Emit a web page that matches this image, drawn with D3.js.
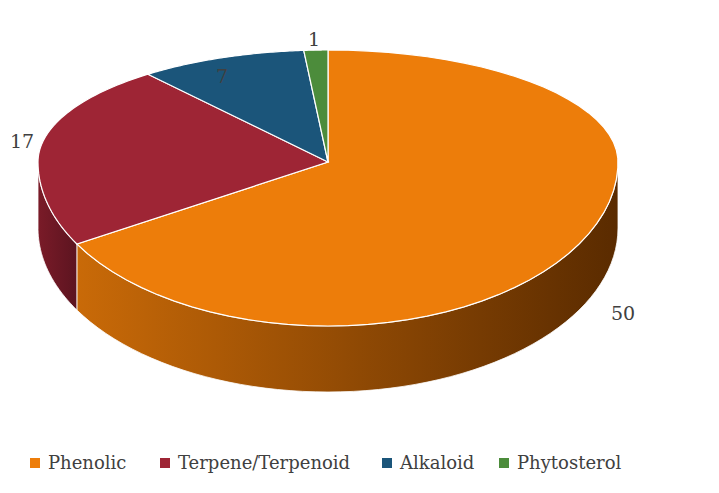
<!DOCTYPE html><html><head><script src="https://cdn.jsdelivr.net/npm/d3@7"></script>
<style>body{margin:0;background:#fff}</style></head><body><svg id="c" width="719" height="493"></svg>
<script>
const categories=["Phenolic","Terpene/Terpenoid","Alkaloid","Phytosterol"];
const values=[50,17,7,1];
const colors=["#ED7D0A","#9E2535","#1B557A","#4C8C3B"];
const sideColors=[["#c96a08","#5a2b00"],["#7a1b28","#5c1420"],["#123d58","#0d2c40"],["#386a2b","#2a5020"]];
const svg=d3.select("#c");
const cx=328,cy=162,rx=290,ryT=112,ryB=164,depth=66,fontF="'DejaVu Serif','Liberation Serif',serif";
const pt=(a,dy=0)=>{const c=Math.cos(a);return [cx+rx*Math.sin(a),cy-(c>0?ryT:ryB)*c+dy];};
const arcs=d3.pie().sort(null)(values);
const line=d3.line();
const defs=svg.append("defs");
sideColors.forEach((s,i)=>{const g=defs.append("linearGradient").attr("id","g"+i).attr("x1","0").attr("x2","1");
g.append("stop").attr("offset","0").attr("stop-color",s[0]);g.append("stop").attr("offset","1").attr("stop-color",s[1]);});
const samp=(a0,a1)=>d3.range(0,61).map(k=>a0+(a1-a0)*k/60);
// sides
arcs.forEach((d,i)=>{const a0=Math.max(d.startAngle,Math.PI/2),a1=Math.min(d.endAngle,3*Math.PI/2);
 if(a1<=a0)return;const s=samp(a0,a1);
 const p=s.map(a=>pt(a)).concat(s.slice().reverse().map(a=>pt(a,depth)));
 svg.append("path").attr("d",line(p)+"Z").attr("fill",`url(#g${i})`).attr("stroke","#fff").attr("stroke-width",0.8);});
// tops
arcs.forEach((d,i)=>{const p=[[cx,cy]].concat(samp(d.startAngle,d.endAngle).map(a=>pt(a)));
 svg.append("path").attr("d",line(p)+"Z").attr("fill",colors[i]).attr("stroke","#fff").attr("stroke-width",1.2);});
// labels
const lab=[[623,320],[22,148],[222,83],[314,46]];
values.forEach((v,i)=>svg.append("text").attr("x",lab[i][0]).attr("y",lab[i][1]).attr("text-anchor","middle")
 .attr("font-family",fontF).attr("font-size",19).attr("fill","#404040").text(v));
// legend
const lx=[30,160,382,499];
categories.forEach((c,i)=>{svg.append("rect").attr("x",lx[i]).attr("y",458).attr("width",10).attr("height",10).attr("fill",colors[i]);
 svg.append("text").attr("x",lx[i]+18).attr("y",469).attr("font-family",fontF).attr("font-size",18).attr("fill","#404040").text(c);});
</script></body></html>
